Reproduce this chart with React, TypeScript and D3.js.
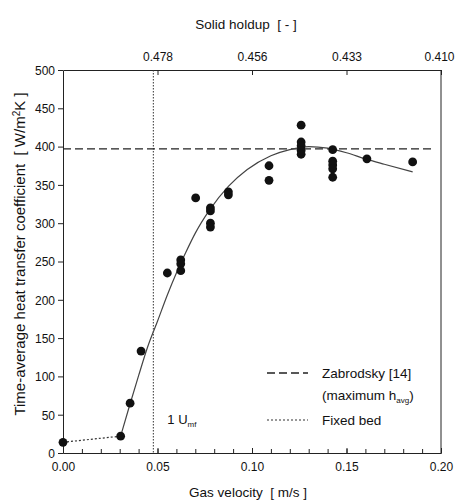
import React, { useEffect, useRef } from 'react';
import * as d3 from 'd3';

// measured points: gas velocity [m/s] and heat transfer coefficient [W/m2K]
const gasVelocity = [
  0.0, 0.0305, 0.0355, 0.0413, 0.0552, 0.0623, 0.0623, 0.0623, 0.0702, 0.078, 0.078,
  0.078, 0.078, 0.0875, 0.0875, 0.109, 0.109, 0.126, 0.126, 0.126, 0.126, 0.126,
  0.1427, 0.1427, 0.1427, 0.1427, 0.1427, 0.1608, 0.185,
];
const heatTransfer = [
  14, 22, 65, 133, 235, 252, 247, 238, 333, 320, 316, 300, 295, 341, 337, 375, 356,
  428, 406, 401, 395, 390, 396, 381, 376, 371, 360, 384, 380,
];

// fitted curve
const fitVelocity = [
  0.0305, 0.035, 0.04, 0.045, 0.05, 0.055, 0.06, 0.065, 0.07, 0.0775, 0.0875, 0.0975,
  0.11, 0.12, 0.13, 0.14, 0.15, 0.16, 0.17, 0.185,
];
const fitHeat = [
  22, 60, 101, 140, 172, 205, 235, 262, 287, 317, 348, 370, 388, 396, 400, 398, 392,
  384, 377, 367,
];

// fixed bed line
const fixedBedVelocity = [0.0, 0.0305];
const fixedBedHeat = [14, 22];

// Zabrodsky maximum h_avg and minimum fluidisation velocity
const zabrodskyHeat = 397;
const zabrodskySpan = [0.0, 0.195];
const umf = 0.0478;

// ticks
const xTicks = [0, 0.05, 0.1, 0.15, 0.2];
const yTicks = [0, 50, 100, 150, 200, 250, 300, 350, 400, 450, 500];
const holdupTicks = [0.05, 0.1, 0.15, 0.2];
const holdupLabels = ['0.478', '0.456', '0.433', '0.410'];

const FONT = '"Liberation Sans", Arial, Helvetica, sans-serif';

const App = () => {
  const ref = useRef<SVGSVGElement | null>(null);

  useEffect(() => {
    const width = 455;
    const height = 501;
    const margin = { top: 70, right: 14, bottom: 48, left: 63 };
    const innerW = width - margin.left - margin.right;
    const innerH = height - margin.top - margin.bottom;

    const svg = d3.select(ref.current).attr('width', width).attr('height', height);
    svg.selectAll('*').remove();

    const x = d3.scaleLinear().domain([0, 0.2]).range([0, innerW]);
    const y = d3.scaleLinear().domain([0, 500]).range([innerH, 0]);

    const g = svg.append('g').attr('transform', `translate(${margin.left},${margin.top})`);

    // left axis
    const left = g
      .append('g')
      .call(d3.axisLeft(y).tickValues(yTicks).tickSize(5).tickSizeOuter(0).tickPadding(3).tickFormat(d3.format('d')));

    // bottom axis, minor + major ticks inward
    g.append('g')
      .attr('transform', `translate(0,${innerH})`)
      .call(d3.axisBottom(x).tickValues(d3.range(0, 0.2001, 0.01)).tickSize(-4).tickSizeOuter(0).tickFormat(() => ''));
    g.append('g')
      .attr('transform', `translate(0,${innerH})`)
      .call(d3.axisBottom(x).tickValues(xTicks).tickSize(-5).tickSizeOuter(0).tickPadding(9).tickFormat(d3.format('.2f')));

    // top axis: solid holdup
    const top = g.append('g').call(
      d3
        .axisTop(x)
        .tickValues(holdupTicks)
        .tickSize(-5)
        .tickSizeOuter(0)
        .tickPadding(9)
        .tickFormat((d, i) => holdupLabels[i])
    );

    // right border
    g.append('line')
      .attr('x1', innerW)
      .attr('x2', innerW)
      .attr('y1', 0)
      .attr('y2', innerH)
      .attr('stroke', '#222');

    svg.selectAll('.domain').attr('stroke', '#222');
    svg.selectAll('.tick line').attr('stroke', '#222');
    svg
      .selectAll('.tick text')
      .attr('fill', '#111')
      .style('font-family', FONT)
      .style('font-size', '12px');
    left.selectAll('.tick text').attr('dy', '0.36em');
    // keep the last holdup label inside the window
    top
      .selectAll('.tick text')
      .filter((d, i) => i === holdupTicks.length - 1)
      .attr('dx', -2);

    // Umf vertical dotted line
    g.append('line')
      .attr('x1', x(umf))
      .attr('x2', x(umf))
      .attr('y1', 0)
      .attr('y2', innerH)
      .attr('stroke', '#333')
      .attr('stroke-width', 1)
      .attr('stroke-dasharray', '1.5,1.5');

    // Zabrodsky dashed line
    g.append('line')
      .attr('x1', x(zabrodskySpan[0]))
      .attr('x2', x(zabrodskySpan[1]))
      .attr('y1', y(zabrodskyHeat))
      .attr('y2', y(zabrodskyHeat))
      .attr('stroke', '#222')
      .attr('stroke-width', 1.3)
      .attr('stroke-dasharray', '8,4');

    // fixed bed dotted line
    const fixedLine = d3
      .line<number>()
      .x((d, i) => x(fixedBedVelocity[i]))
      .y((d) => y(d));
    g.append('path')
      .attr('d', fixedLine(fixedBedHeat))
      .attr('fill', 'none')
      .attr('stroke', '#333')
      .attr('stroke-width', 1.2)
      .attr('stroke-dasharray', '2,2');

    // fitted curve
    const fitLine = d3
      .line<number>()
      .x((d, i) => x(fitVelocity[i]))
      .y((d) => y(d))
      .curve(d3.curveMonotoneX);
    g.append('path')
      .attr('d', fitLine(fitHeat))
      .attr('fill', 'none')
      .attr('stroke', '#444')
      .attr('stroke-width', 1.2);

    // data points
    g.selectAll('circle.pt')
      .data(heatTransfer)
      .enter()
      .append('circle')
      .attr('class', 'pt')
      .attr('cx', (d, i) => x(gasVelocity[i]))
      .attr('cy', (d) => y(d))
      .attr('r', 4.4)
      .attr('fill', '#111');

    // 1 Umf label
    const umfText = g
      .append('text')
      .attr('x', x(umf) + 14)
      .attr('y', innerH - 29)
      .style('font-family', FONT)
      .style('font-size', '13px')
      .attr('fill', '#111');
    umfText.append('tspan').text('1 U');
    umfText.append('tspan').attr('dy', 3).style('font-size', '8px').text('mf');

    // legend
    const lx1 = 267 - margin.left;
    const lx2 = 308 - margin.left;
    const tx = 322 - margin.left;
    const ly1 = 373 - margin.top;
    const ly2 = 420 - margin.top;
    g.append('line')
      .attr('x1', lx1)
      .attr('x2', lx2)
      .attr('y1', ly1)
      .attr('y2', ly1)
      .attr('stroke', '#222')
      .attr('stroke-width', 1.3)
      .attr('stroke-dasharray', '8,4');
    g.append('line')
      .attr('x1', lx1)
      .attr('x2', lx2)
      .attr('y1', ly2)
      .attr('y2', ly2)
      .attr('stroke', '#333')
      .attr('stroke-width', 1.2)
      .attr('stroke-dasharray', '2,2');

    const legText = (yy: number) =>
      g
        .append('text')
        .attr('x', tx)
        .attr('y', yy)
        .attr('dy', '0.36em')
        .style('font-family', FONT)
        .style('font-size', '13.5px')
        .attr('fill', '#111');
    legText(ly1).text('Zabrodsky [14]');
    const maxText = legText(ly1 + 22);
    maxText.append('tspan').text('(maximum h');
    maxText.append('tspan').attr('dy', 3).style('font-size', '8px').text('avg');
    maxText.append('tspan').attr('dy', -3).text(')');
    legText(ly2).text('Fixed bed');

    // axis titles
    svg
      .append('text')
      .attr('x', margin.left + innerW / 2 - 6)
      .attr('y', 29)
      .attr('text-anchor', 'middle')
      .style('font-family', FONT)
      .style('font-size', '13.5px')
      .style('white-space', 'pre')
      .attr('fill', '#111')
      .text('Solid holdup  [ - ]');

    svg
      .append('text')
      .attr('x', margin.left + innerW / 2 - 4)
      .attr('y', 497)
      .attr('text-anchor', 'middle')
      .style('font-family', FONT)
      .style('font-size', '13.5px')
      .style('white-space', 'pre')
      .attr('fill', '#111')
      .text('Gas velocity  [ m/s ]');

    const yTitle = svg
      .append('text')
      .attr('transform', `translate(25,254) rotate(-90)`)
      .attr('text-anchor', 'middle')
      .style('font-family', FONT)
      .style('font-size', '15px')
      .style('white-space', 'pre')
      .attr('fill', '#111');
    yTitle.append('tspan').text('Time-average heat transfer coefficient  [ W/m');
    yTitle.append('tspan').attr('dy', -5).style('font-size', '10px').text('2');
    yTitle.append('tspan').attr('dy', 5).text('K ]');

    return () => {
      d3.select(ref.current).selectAll('*').remove();
    };
  }, []);

  return (
    <svg
      ref={ref}
      style={{ position: 'absolute', left: 0, top: 0, background: '#fff' }}
    ></svg>
  );
};

export default App;
